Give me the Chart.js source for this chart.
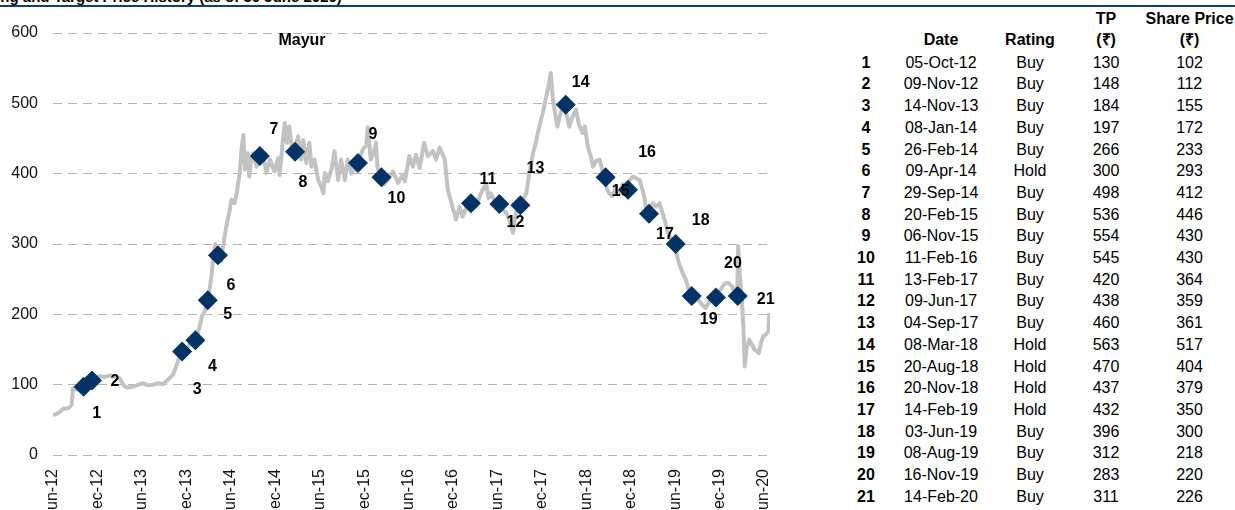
<!DOCTYPE html>
<html>
<head>
<meta charset="utf-8">
<script src="https://cdn.jsdelivr.net/npm/chart.js@4/dist/chart.umd.min.js"></script>
<style>
    body { margin: 0; width: 1235px; height: 510px; overflow: hidden; background: #fff; font-family: "Liberation Sans", Arial, sans-serif; position: relative; }
    .Rating__title { position: absolute; left: -28px; top: -11px; font-size: 15px; font-weight: bold; line-height: 15px; white-space: nowrap; color: #000; }
    .Rating__rule { position: absolute; left: 0; top: 5px; width: 1235px; height: 2px; background: #163a72; }
    .Rating__chart { position: absolute; left: 0; top: 0; width: 800px; height: 520px; }
    .Rating__name { position: absolute; left: 302px; top: 30px; transform: translateX(-50%); font-size: 16px; font-weight: bold; line-height: 20px; }
    .Rating__cell { position: absolute; transform: translateX(-50%); font-size: 16px; line-height: 20px; white-space: nowrap; color: #000; }
    .Rating__cell-bold { font-weight: bold; }
</style>
</head>
<body>
<div class="Rating__title">Rating and Target Price History (as of 30 June 2020)</div>
<div class="Rating__rule"></div>
<div class="Rating__chart"><canvas id="chart"></canvas></div>
<div class="Rating__name">Mayur</div>
<div id="table"></div>
<script>
// rating history table
const ratingDates = ['05-Oct-12', '09-Nov-12', '14-Nov-13', '08-Jan-14', '26-Feb-14', '09-Apr-14', '29-Sep-14',
    '20-Feb-15', '06-Nov-15', '11-Feb-16', '13-Feb-17', '09-Jun-17', '04-Sep-17', '08-Mar-18', '20-Aug-18',
    '20-Nov-18', '14-Feb-19', '03-Jun-19', '08-Aug-19', '16-Nov-19', '14-Feb-20']
const ratings = ['Buy', 'Buy', 'Buy', 'Buy', 'Buy', 'Hold', 'Buy', 'Buy', 'Buy', 'Buy', 'Buy', 'Buy', 'Buy',
    'Hold', 'Hold', 'Hold', 'Hold', 'Buy', 'Buy', 'Buy', 'Buy']
const targetPrices = [130, 148, 184, 197, 266, 300, 498, 536, 554, 545, 420, 438, 460, 563, 470, 437, 432, 396, 312, 283, 311]
const sharePrices = [102, 112, 155, 172, 233, 293, 412, 446, 430, 430, 364, 359, 361, 517, 404, 379, 350, 300, 218, 220, 226]

// diamond heights
const markerPrices = [97, 106, 147, 163, 220, 284, 425, 431, 415, 395, 358, 357, 355, 498, 395, 377, 343, 300, 226, 224, 226]

// x axis: months since 1 Jun 2012
const tickMonths = [0, 6, 12, 18, 24, 30, 36, 42, 48, 54, 60, 66, 72, 78, 84, 90, 96]
const tickLabels = ['Jun-12', 'Dec-12', 'Jun-13', 'Dec-13', 'Jun-14', 'Dec-14', 'Jun-15', 'Dec-15', 'Jun-16',
    'Dec-16', 'Jun-17', 'Dec-17', 'Jun-18', 'Dec-18', 'Jun-19', 'Dec-19', 'Jun-20']

// share price line
const priceMonths = [
    0, 0.4, 0.7, 1, 1.4, 1.8, 2.1, 2.5, 2.7, 3.2,
    3.6, 4.1, 4.6, 5.3, 5.8, 6.3, 7, 7.7, 8.3, 9,
    9.5, 9.7, 10.2, 10.8, 11.5, 12.2, 12.8, 13.5, 14.2, 14.9,
    15.3, 15.8, 16.2, 16.7, 17.1, 17.5, 18, 18.5, 19.3, 19.8,
    20.1, 20.5, 20.9, 21.4, 21.6, 21.9, 22.3, 22.7, 23, 23.4,
    23.8, 24.1, 24.5, 24.8, 25.2, 25.5, 25.7, 25.9, 26.1, 26.3,
    26.5, 26.7, 27, 27.5, 27.9, 28.4, 28.8, 29.3, 29.9, 30.4,
    30.6, 31, 31.3, 31.6, 31.9, 32.2, 32.5, 33.1, 33.5, 33.8,
    34.2, 34.6, 34.9, 35.3, 35.8, 36.2, 36.5, 36.7, 37.1, 37.6,
    38, 38.5, 38.9, 39.4, 39.8, 40.3, 40.7, 41.2, 41.8, 42.3,
    42.5, 42.9, 43.3, 43.6, 43.8, 44.2, 44.7, 45.2, 45.9, 46.6,
    47.2, 47.5, 48.1, 48.6, 49, 49.5, 50.1, 50.6, 51.3, 51.7,
    52.2, 52.9, 53.3, 53.8, 54.4, 54.9, 55.3, 55.8, 56.4, 57.1,
    57.6, 58, 58.5, 58.8, 59.1, 59.6, 60.1, 60.6, 61.2, 61.6,
    62.1, 62.5, 63, 63.4, 63.9, 64.3, 64.8, 65.2, 65.5, 65.9,
    66.2, 66.6, 66.9, 67.2, 67.5, 67.7, 68.1, 68.5, 68.9, 69.3,
    69.7, 70.1, 70.6, 71, 71.5, 71.8, 72.2, 72.6, 72.9, 73.3,
    73.8, 74.1, 74.4, 74.8, 75.1, 75.5, 76, 76.4, 76.9, 77.4,
    77.8, 78.3, 78.8, 79.2, 79.5, 79.8, 80.2, 80.6, 81, 81.4,
    81.9, 82.3, 82.7, 83, 83.4, 83.7, 84.1, 84.5, 85, 85.4,
    85.7, 86, 86.5, 87, 87.6, 88.1, 88.6, 89.3, 89.8, 90.3,
    90.7, 91.1, 91.7, 92.1, 92.4, 92.5, 92.7, 93, 93.2, 93.4,
    93.6, 94, 94.3, 94.7, 95, 95.3, 95.6, 95.9, 96.3, 96.6,
    96.7]
const priceValues = [
    57, 58, 60, 62, 66, 66, 67, 71, 95, 93,
    97, 97, 101, 106, 110, 112, 111, 113, 111, 109,
    100, 97, 96, 97, 100, 102, 99, 100, 102, 101,
    105, 110, 114, 128, 140, 147, 150, 158, 163, 183,
    197, 205, 220, 254, 278, 300, 284, 276, 300, 325,
    345, 363, 358, 372, 401, 440, 455, 406, 415, 429,
    396, 415, 429, 410, 425, 425, 401, 420, 403, 422,
    398, 444, 472, 444, 467, 440, 431, 453, 420, 448,
    415, 444, 410, 420, 391, 382, 372, 401, 389, 406,
    432, 391, 420, 391, 420, 400, 408, 415, 434, 440,
    466, 420, 430, 444, 410, 396, 385, 391, 403, 387,
    398, 389, 425, 410, 427, 408, 444, 425, 432, 420,
    437, 420, 377, 358, 335, 353, 339, 352, 358, 353,
    368, 377, 385, 365, 372, 362, 357, 350, 344, 335,
    316, 345, 355, 362, 372, 400, 429, 444, 460, 477,
    490, 510, 525, 543, 505, 491, 467, 485, 498, 486,
    467, 480, 491, 470, 458, 467, 439, 425, 410, 418,
    420, 408, 395, 378, 372, 368, 380, 372, 385, 377,
    390, 396, 393, 391, 380, 368, 343, 350, 358, 353,
    358, 344, 330, 316, 308, 300, 290, 273, 259, 250,
    240, 226, 218, 222, 214, 209, 218, 224, 230, 238,
    244, 245, 240, 226, 240, 297, 260, 221, 183, 126,
    150, 164, 158, 150, 148, 145, 160, 169, 172, 176,
    202]

// where each number sits relative to its diamond (px)
const labelOffsets = [[13, 27], [23, 1], [15, 38], [17, 26], [20, 14], [13, 30], [14, -26], [8, 31], [15, -29],
    [15, 21], [17, -24], [16, 19], [15, -37], [15, -22], [15, 14], [19, -37], [16, 21], [25, -23], [17, 24],
    [17, -34], [28, 4]]

const monthNames = ['Jan', 'Feb', 'Mar', 'Apr', 'May', 'Jun', 'Jul', 'Aug', 'Sep', 'Oct', 'Nov', 'Dec']

function toMonths(date) {
    const parts = date.split('-')
    const day = +parts[0]
    const month = monthNames.indexOf(parts[1])
    const year = 2000 + +parts[2]
    const days = new Date(year, month + 1, 0).getDate()
    return (year - 2012) * 12 + month - 5 + (day - 1) / days
}

class RatingTable {
    constructor(el) {
        this.el = el
        this.cols = [866, 941, 1030, 1106, 1189.5]
    }

    cell(x, y, text, bold) {
        return `<div class="Rating__cell${bold ? ' Rating__cell-bold' : ''}" style="left:${x}px; top:${y - 10}px">${text}</div>`
    }

    render() {
        const c = this.cols
        let html = ''
        html += this.cell(c[1], 39.5, 'Date', true)
        html += this.cell(c[2], 39.5, 'Rating', true)
        html += this.cell(c[3], 18.5, 'TP', true)
        html += this.cell(c[3], 39.5, '(₹)', true)
        html += this.cell(c[4], 18.5, 'Share Price', true)
        html += this.cell(c[4], 39.5, '(₹)', true)
        for(let i = 0; i < ratingDates.length; i++) {
            const y = 62.7 + i * 21.7
            html += this.cell(c[0], y, i + 1, true)
            html += this.cell(c[1], y, ratingDates[i])
            html += this.cell(c[2], y, ratings[i])
            html += this.cell(c[3], y, targetPrices[i])
            html += this.cell(c[4], y, sharePrices[i])
        }
        this.el.innerHTML = html
    }
}

new RatingTable(document.getElementById('table')).render()

const markerLabels = {
    id: 'markerLabels',
    afterDatasetsDraw(chart) {
        const ctx = chart.ctx
        const meta = chart.getDatasetMeta(0)
        ctx.save()
        ctx.font = 'bold 16px "Liberation Sans", Arial, sans-serif'
        ctx.fillStyle = '#000'
        ctx.textAlign = 'center'
        ctx.textBaseline = 'middle'
        meta.data.forEach((pt, i) => {
            ctx.fillText(String(i + 1), pt.x + labelOffsets[i][0], pt.y + labelOffsets[i][1])
        })
        ctx.restore()
    }
}

Chart.defaults.font.family = '"Liberation Sans", Arial, sans-serif'
Chart.defaults.font.size = 16
Chart.defaults.color = '#111'

new Chart(document.getElementById('chart'), {
    type: 'line',
    data: {
        datasets: [
            {
                label: 'Rating',
                data: ratingDates.map((d, i) => ({ x: toMonths(d), y: markerPrices[i] })),
                showLine: false,
                pointStyle: 'rectRot',
                pointRadius: 10,
                pointBackgroundColor: '#023366',
                pointBorderWidth: 0,
                clip: false
            },
            {
                label: 'Price',
                data: priceMonths.map((m, i) => ({ x: m, y: priceValues[i] })),
                borderColor: '#c2c2c2',
                borderWidth: 4,
                pointRadius: 0,
                tension: 0,
                borderJoinStyle: 'round'
            }
        ]
    },
    options: {
        responsive: true,
        maintainAspectRatio: false,
        animation: false,
        events: [],
        layout: { padding: { top: 33, right: 30, bottom: 0, left: 0 } },
        plugins: { legend: { display: false }, tooltip: { enabled: false } },
        scales: {
            x: {
                type: 'linear',
                min: 0,
                max: 96.8,
                afterBuildTicks: scale => { scale.ticks = tickMonths.map(v => ({ value: v })) },
                afterFit: scale => { scale.height = 65 },
                grid: { display: false },
                border: { display: false },
                ticks: {
                    autoSkip: false,
                    minRotation: 90,
                    maxRotation: 90,
                    padding: 6,
                    callback: (value, index) => tickLabels[index]
                }
            },
            y: {
                min: 0,
                max: 600,
                afterFit: scale => { scale.width = 53 },
                grid: { color: '#b4b4b4', lineWidth: 1, drawTicks: false },
                border: { display: false, dash: [9, 6] },
                ticks: { stepSize: 100, padding: 15 }
            }
        }
    },
    plugins: [markerLabels]
})
</script>
</body>
</html>
